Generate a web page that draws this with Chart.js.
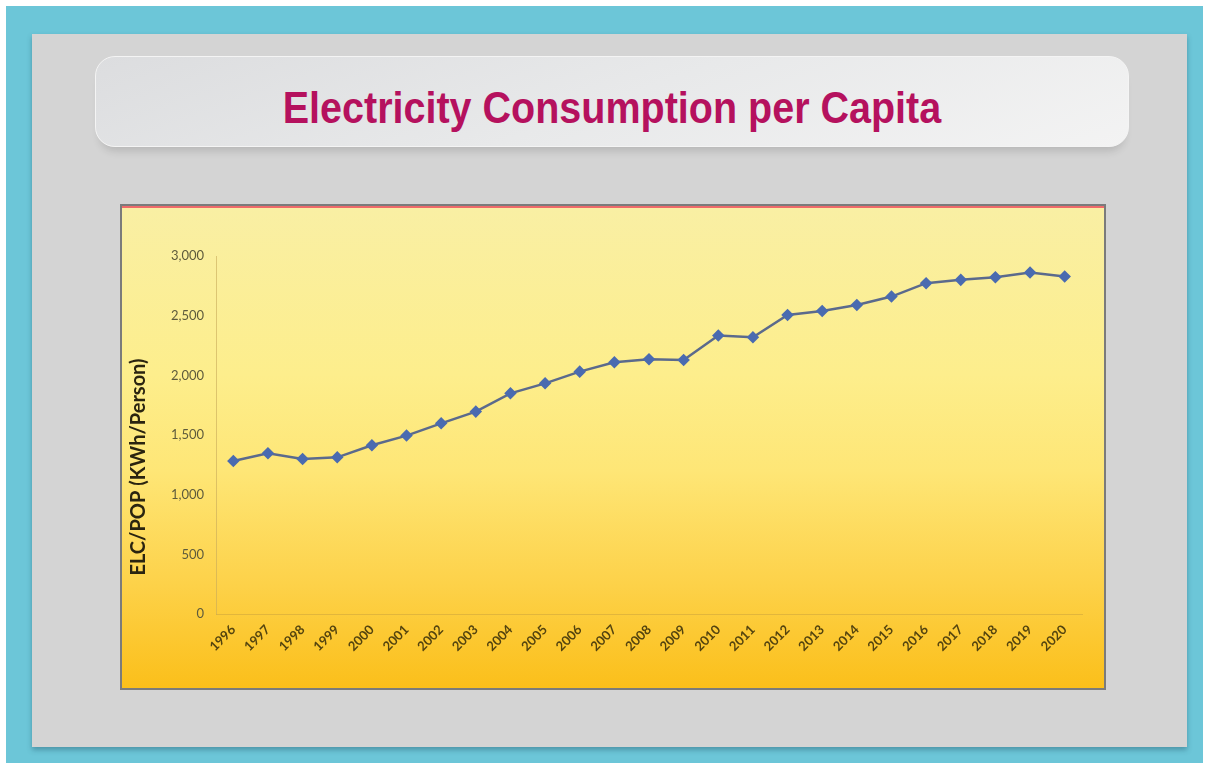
<!DOCTYPE html>
<html lang="en">
<head>
  <meta charset="UTF-8">
  <title>Electricity Consumption per Capita</title>
  <script src="https://cdn.jsdelivr.net/npm/chart.js"></script>
  <style>
    html, body { margin: 0; padding: 0; }
    body { width: 1209px; height: 769px; background: #ffffff; position: relative; overflow: hidden; }
    #frame { position: absolute; left: 6px; top: 6px; width: 1197px; height: 757px; background: #6cc6d8; }
    #panel { position: absolute; left: 32px; top: 34px; width: 1155px; height: 713px; background: #d4d4d4;
             box-shadow: 0 3px 5px rgba(40, 90, 110, 0.45); }
    #titleBox { position: absolute; left: 95px; top: 56px; width: 1034px; height: 91px; box-sizing: border-box;
                border-radius: 20px; border: 1px solid #f4f4f4;
                background: linear-gradient(160deg, #dcdddf 0%, #e8e9ea 50%, #f3f3f3 100%);
                box-shadow: 0 9px 9px -5px rgba(0, 0, 0, 0.14);
                font-family: "Liberation Sans", Arial, sans-serif; font-weight: bold; font-size: 39.5px;
                color: #b5115e; text-align: center; line-height: 89px; }
    #titleBox span { display: inline-block; transform: translateY(6px) scaleY(1.12); }
    #chartBox { position: absolute; left: 120px; top: 204px; width: 986px; height: 486px; box-sizing: border-box;
                border: 2px solid #7b7b7b;
                background: linear-gradient(#f9efa4 0%, #fdee8c 35%, #fee676 55%, #fdd24a 78%, #fbbf1a 100%); }
    #redLine { position: absolute; left: 0; top: 0; right: 0; height: 2px; background: #ef6a6a; }
    #chartWrap { position: absolute; left: 0; top: 0; width: 982px; height: 482px; }
  </style>
</head>
<body>
  <div id="frame"></div>
  <div id="panel"></div>
  <div id="titleBox"><span>Electricity Consumption per Capita</span></div>
  <div id="chartBox">
    <div id="redLine"></div>
    <div id="chartWrap"><canvas id="elcChart" width="982" height="482"></canvas></div>
  </div>

  <script>
    // data
    const years = ['1996', '1997', '1998', '1999', '2000', '2001', '2002', '2003', '2004', '2005',
                   '2006', '2007', '2008', '2009', '2010', '2011', '2012', '2013', '2014', '2015',
                   '2016', '2017', '2018', '2019', '2020'];
    const elcPerPerson = [1282, 1347, 1299, 1313, 1414, 1495, 1598, 1696, 1849, 1933,
                          2031, 2109, 2135, 2129, 2333, 2319, 2506, 2540, 2590, 2660,
                          2772, 2800, 2822, 2861, 2828];
    const yTicks = [0, 500, 1000, 1500, 2000, 2500, 3000];
    const yTitle = 'ELC/POP (KWh/Person)';

    // axis title sits a bit lower than the axis middle in the original, so draw it ourselves
    const yTitlePlugin = {
      id: 'yTitlePlugin',
      afterDraw(chart) {
        const c = chart.ctx;
        c.save();
        c.translate(17, 261);
        c.rotate(-Math.PI / 2);
        c.font = 'bold 20px Lato, "Open Sans", sans-serif';
        c.fillStyle = '#2a2410';
        c.textAlign = 'center';
        c.textBaseline = 'middle';
        c.fillText(yTitle, 0, 0);
        c.restore();
      }
    };

    const ctx = document.getElementById('elcChart').getContext('2d');
    new Chart(ctx, {
      type: 'line',
      data: {
        labels: years,
        datasets: [{
          data: elcPerPerson,
          borderColor: '#5b6a8c',
          borderWidth: 2.5,
          pointStyle: 'rectRot',
          pointRadius: 4.5,
          pointBackgroundColor: '#4a6bb0',
          pointBorderColor: '#4a6bb0',
          tension: 0
        }]
      },
      options: {
        responsive: false,
        animation: false,
        devicePixelRatio: 1,
        layout: { padding: { left: 0, right: 22, top: 50, bottom: 0 } },
        plugins: { legend: { display: false }, tooltip: { enabled: false } },
        scales: {
          x: {
            offset: true,
            grid: { display: false, drawTicks: false },
            border: { display: true, color: 'rgba(200,160,60,0.5)', width: 1 },
            ticks: {
              minRotation: 45, maxRotation: 45, autoSkip: false, padding: 8,
              color: '#54440f',
              font: { family: 'Lato, "Open Sans", sans-serif', size: 13, weight: 'bold' }
            },
            afterFit: function (scale) { scale.height = 74; }
          },
          y: {
            min: 0, max: 3000,
            afterBuildTicks: function (scale) { scale.ticks = yTicks.map(v => ({ value: v })); },
            grid: { display: false, drawTicks: false },
            border: { display: true, color: 'rgba(200,170,90,0.6)', width: 1 },
            ticks: {
              padding: 12,
              color: '#5e5b3c',
              font: { family: 'Lato, "Open Sans", sans-serif', size: 13 },
              callback: function (v) { return Number(v).toLocaleString('en-US'); }
            },
            afterFit: function (scale) { scale.width = 94; }
          }
        }
      },
      plugins: [yTitlePlugin]
    });
  </script>
</body>
</html>
